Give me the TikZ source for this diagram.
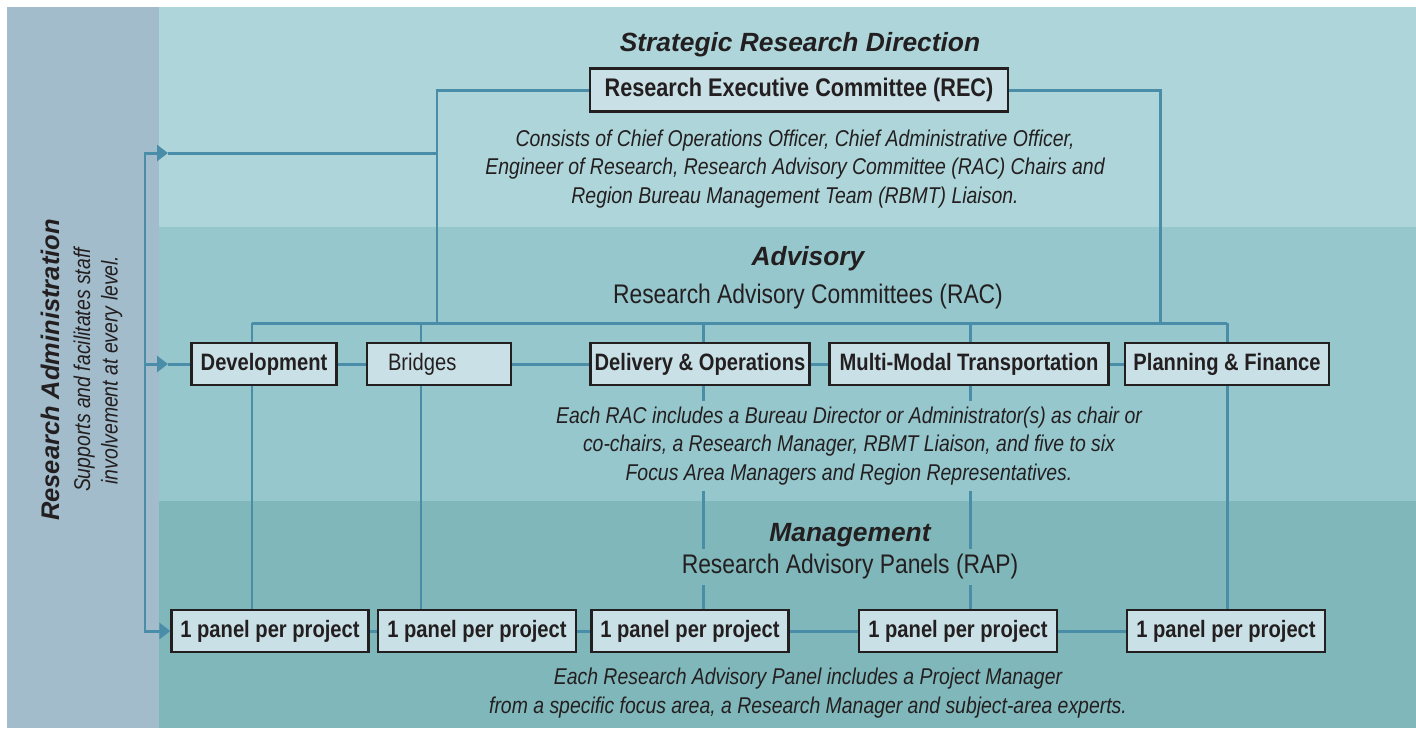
\documentclass[tikz,border=0pt]{standalone}
\usepackage{fontspec}
\setmainfont{Liberation Sans}
\newfontfamily\condsans[FakeStretch=0.85]{Liberation Sans}
\usetikzlibrary{arrows.meta}
\definecolor{side}{HTML}{A2BCCB}
\definecolor{bandtop}{HTML}{AED6DA}
\definecolor{bandmid}{HTML}{96C7CD}
\definecolor{bandlow}{HTML}{80B7BA}
\definecolor{wire}{HTML}{4A8DA8}
\definecolor{boxfill}{HTML}{C9E0E6}
\definecolor{ink}{HTML}{231F20}

\begin{document}
\begin{tikzpicture}[
  x=0.02cm, y=-0.02cm,
  >={Triangle[length=0.22cm,width=0.32cm]},
  box/.style={draw=ink, fill=boxfill, line width=1.3pt, text=ink, minimum height=0.84cm, inner sep=0pt, font=\condsans\bfseries\fontsize{13.5}{16}\selectfont},
  level/.style={text=ink, font=\bfseries\itshape\fontsize{15}{18}\selectfont},
  group/.style={text=ink, inner sep=3pt, font=\condsans\fontsize{15.3}{18}\selectfont},
  note/.style={text=ink, align=center, inner sep=3pt, font=\condsans\itshape\fontsize{13}{16.2}\selectfont},
  conn/.style={draw=wire, line width=1.7pt},
]
\useasboundingbox (0,0) rectangle (1416,728);

% bands
\fill[side] (7,7) rectangle (159,728);
\fill[bandtop] (159,7) rectangle (1416,227);
\fill[bandmid] (159,227) rectangle (1416,501);
\fill[bandlow] (159,501) rectangle (1416,728);

% research administration
\node[level, rotate=90, font=\bfseries\itshape\fontsize{14.5}{18}\selectfont] (admin) at (50,370) {Research Administration};
\node[note, rotate=90, font=\condsans\itshape\fontsize{13}{15.6}\selectfont] (adminnote) at (98,370) {Supports and facilitates staff\\involvement at every level.};

% strategic level
\node[level] (strategic) at (800,45) {Strategic Research Direction};
\node[box, minimum width=8.36cm, minimum height=0.86cm, font=\condsans\bfseries\fontsize{14.5}{17}\selectfont] (rec) at (799,90) {Research Executive Committee (REC)};
\node[note] (recnote) at (795,169) {Consists of Chief Operations Officer, Chief Administrative Officer,\\Engineer of Research, Research Advisory Committee (RAC) Chairs and\\Region Bureau Management Team (RBMT) Liaison.};

% advisory level
\node[level] (advisory) at (808,259) {Advisory};
\node[group] (rac) at (808,297) {Research Advisory Committees (RAC)};
\node[box, minimum width=2.9cm] (dev) at (264,364) {Development};
\node[box, text width=2.88cm, align=left, font=\condsans\fontsize{13.5}{16}\selectfont] (bri) at (439,364) {\hspace*{0.42cm}Bridges};
\node[box, minimum width=4.38cm] (del) at (700,364) {Delivery \& Operations};
\node[box, minimum width=5.58cm] (mmt) at (969,364) {Multi-Modal Transportation};
\node[box, minimum width=4.08cm] (pnf) at (1227,364) {Planning \& Finance};
\node[note, fill=bandmid] (racnote) at (849,446) {Each RAC includes a Bureau Director or Administrator(s) as chair or\\co-chairs, a Research Manager, RBMT Liaison, and five to six\\Focus Area Managers and Region Representatives.};

% management level
\node[level] (management) at (850,535) {Management};
\node[group, fill=bandlow] (rap) at (850,567) {Research Advisory Panels (RAP)};
\node[box, minimum width=3.94cm] (p1) at (270,631) {1 panel per project};
\node[box, minimum width=3.96cm] (p2) at (477,631) {1 panel per project};
\node[box, minimum width=3.94cm] (p3) at (690,631) {1 panel per project};
\node[box, minimum width=3.96cm] (p4) at (958,631) {1 panel per project};
\node[box, minimum width=3.96cm] (p5) at (1226,631) {1 panel per project};
\node[note] (rapnote) at (808,693) {Each Research Advisory Panel includes a Project Manager\\from a specific focus area, a Research Manager and subject-area experts.};

% bus points
\coordinate (xdev) at (252,323);
\coordinate (xbri) at (421,323);
\coordinate (xdel) at (703,323);
\coordinate (xmmt) at (970,323);
\coordinate (xpnf) at (1227,323);
\coordinate (recl) at (437,323);
\coordinate (recr) at (1160,323);
\coordinate (sptop) at (145,153);
\coordinate (spmid) at (145,364);
\coordinate (spbot) at (145,631);
\coordinate (t1) at (168,153);
\coordinate (t2) at (168,364);

% admin feeds every level
\draw[conn, <->] (t1) -- (sptop) -- (spbot) -- (p1.west);
\draw[conn, ->] (spmid) -- (t2);
\draw[conn] (t1) -- (t1 -| recl);
\draw[conn] (t2) -- (dev.west);

% REC frame and RAC bus
\draw[conn] (rec.west) -| (recl);
\draw[conn] (rec.east) -| (recr);
\draw[conn] (xdev) -- (xpnf);
\draw[conn] (xdev) -- (dev.north -| xdev);
\draw[conn] (xbri) -- (bri.north -| xbri);
\draw[conn] (xdel) -- (del.north -| xdel);
\draw[conn] (xmmt) -- (mmt.north -| xmmt);
\draw[conn] (xpnf) -- (pnf.north -| xpnf);

\draw[conn] (dev.east) -- (bri.west);
\draw[conn] (bri.east) -- (del.west);
\draw[conn] (del.east) -- (mmt.west);
\draw[conn] (mmt.east) -- (pnf.west);

% RAC to panels
\draw[conn] (dev.south -| xdev) -- (p1.north -| xdev);
\draw[conn] (bri.south -| xbri) -- (p2.north -| xbri);
\draw[conn] (del.south -| xdel) -- (racnote.north -| xdel);
\draw[conn] (racnote.south -| xdel) -- (rap.north -| xdel);
\draw[conn] (rap.south -| xdel) -- (p3.north -| xdel);
\draw[conn] (mmt.south -| xmmt) -- (racnote.north -| xmmt);
\draw[conn] (racnote.south -| xmmt) -- (rap.north -| xmmt);
\draw[conn] (rap.south -| xmmt) -- (p4.north -| xmmt);
\draw[conn] (pnf.south -| xpnf) -- (p5.north -| xpnf);

\draw[conn] (p1.east) -- (p2.west);
\draw[conn] (p2.east) -- (p3.west);
\draw[conn] (p3.east) -- (p4.west);
\draw[conn] (p4.east) -- (p5.west);

\end{tikzpicture}
\end{document}
